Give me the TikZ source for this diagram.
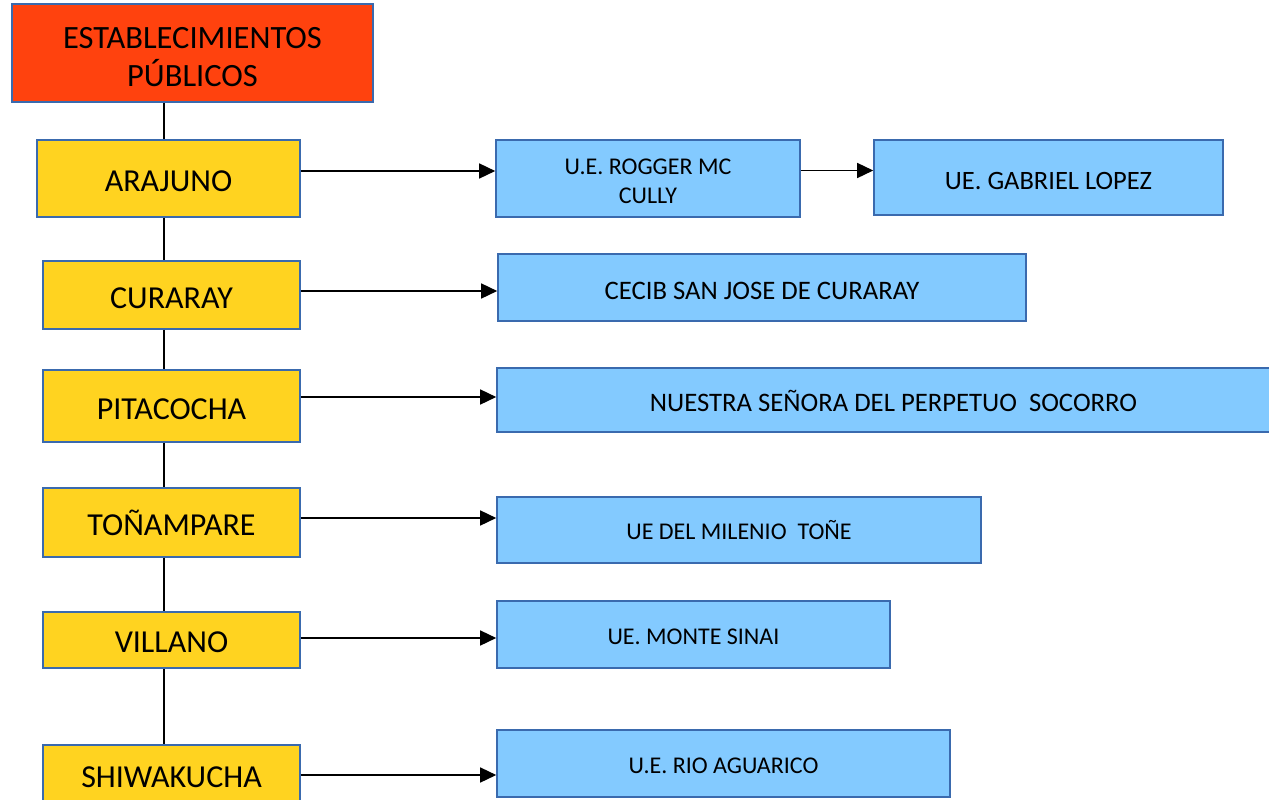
\documentclass[tikz,border=0pt]{standalone}
\usepackage{fontspec}
\setmainfont{Carlito}
\usetikzlibrary{arrows.meta}
\definecolor{hdrfill}{HTML}{FF420E}
\definecolor{yelfill}{HTML}{FFD320}
\definecolor{blufill}{HTML}{83CAFF}
\definecolor{bord}{HTML}{3A6AAE}
\tikzset{
  basebox/.style={draw=bord, line width=1.6pt, inner sep=0pt, align=center, text=black, text depth=0pt},
  hdrbox/.style={basebox, fill=hdrfill, font=\fontsize{32.5}{38}\selectfont},
  yelbox/.style={basebox, fill=yelfill, font=\fontsize{32}{38}\selectfont, text height=26.6pt},
  blubox/.style={basebox, fill=blufill, font=\fontsize{24}{29}\selectfont, text height=20.5pt},
  bigblu/.style={blubox, font=\fontsize{26.7}{30}\selectfont, text height=24.2pt},
  link/.style={line width=1.5pt, draw=black},
  arr/.style={line width=1.5pt, draw=black, -{Triangle[length=16pt,width=15pt]}}
}
\begin{document}
\begin{tikzpicture}[x=1pt,y=-1pt]
\useasboundingbox (0,0) rectangle (1269,800);
\clip (0,0) rectangle (1269,800);
\fill[white] (0,0) rectangle (1269,800);
\coordinate (spine) at (164,0);
% left column
\node[hdrbox, minimum width=361, minimum height=98, text height=67pt] (hdr) at (192.5,53) {ESTABLECIMIENTOS\\PÚBLICOS};
\node[yelbox, minimum width=263, minimum height=77] (ara) at (168.5,178.5) {ARAJUNO};
\node[yelbox, minimum width=257, minimum height=68] (cur) at (171.5,295) {CURARAY};
\node[yelbox, minimum width=257, minimum height=72] (pit) at (171.5,406) {PITACOCHA};
\node[yelbox, minimum width=257, minimum height=69, text height=25.6pt] (ton) at (171.5,522.5) {TOÑAMPARE};
\node[yelbox, minimum width=257, minimum height=56, text height=24.6pt] (vil) at (171.5,640) {VILLANO};
\node[yelbox, minimum width=257, minimum height=70, text height=14.6pt] (shi) at (171.5,780) {SHIWAKUCHA};
% right column
\node[blubox, minimum width=304, minimum height=77, font=\fontsize{24}{29}\selectfont, text height=50.5pt] (rog) at (648,178.5) {U.E. ROGGER MC\\CULLY};
\node[bigblu, minimum width=349, minimum height=75, font=\fontsize{26.5}{30}\selectfont] (gab) at (1048.5,177.5) {UE. GABRIEL LOPEZ};
\node[bigblu, minimum width=528, minimum height=67] (cec) at (762,287.5) {CECIB SAN JOSE DE CURARAY};
\node[bigblu, minimum width=793, minimum height=64, text height=23.2pt] (nue) at (893.5,400) {NUESTRA SEÑORA DEL PERPETUO\ \ SOCORRO};
\node[blubox, minimum width=484, minimum height=66, text height=19.5pt] (mil) at (739,530) {UE DEL MILENIO\ \ TOÑE};
\node[blubox, minimum width=393, minimum height=67] (mon) at (693.5,634.5) {UE. MONTE SINAI};
\node[blubox, minimum width=453, minimum height=67] (rio) at (723.5,763.5) {U.E. RIO AGUARICO};
% spine
\draw[link] (hdr.south -| spine) -- (ara.north -| spine);
\draw[link] (ara.south -| spine) -- (cur.north -| spine);
\draw[link] (cur.south -| spine) -- (pit.north -| spine);
\draw[link] (pit.south -| spine) -- (ton.north -| spine);
\draw[link] (ton.south -| spine) -- (vil.north -| spine);
\draw[link] (vil.south -| spine) -- (shi.north -| spine);
% arrows
\draw[arr] ([yshift=7.5pt]ara.east) -- ([yshift=7.5pt]ara.east -| rog.west);
\draw[arr] ([yshift=8pt]rog.east) -- ([yshift=8pt]rog.east -| gab.west);
\draw[arr] ([yshift=4pt]cur.east) -- ([yshift=4pt]cur.east -| cec.west);
\draw[arr] ([yshift=9pt]pit.east) -- ([yshift=9pt]pit.east -| nue.west);
\draw[arr] ([yshift=4.5pt]ton.east) -- ([yshift=4.5pt]ton.east -| mil.west);
\draw[arr] ([yshift=2pt]vil.east) -- ([yshift=2pt]vil.east -| mon.west);
\draw[arr] ([yshift=5pt]shi.east) -- ([yshift=5pt]shi.east -| rio.west);
\end{tikzpicture}
\end{document}
